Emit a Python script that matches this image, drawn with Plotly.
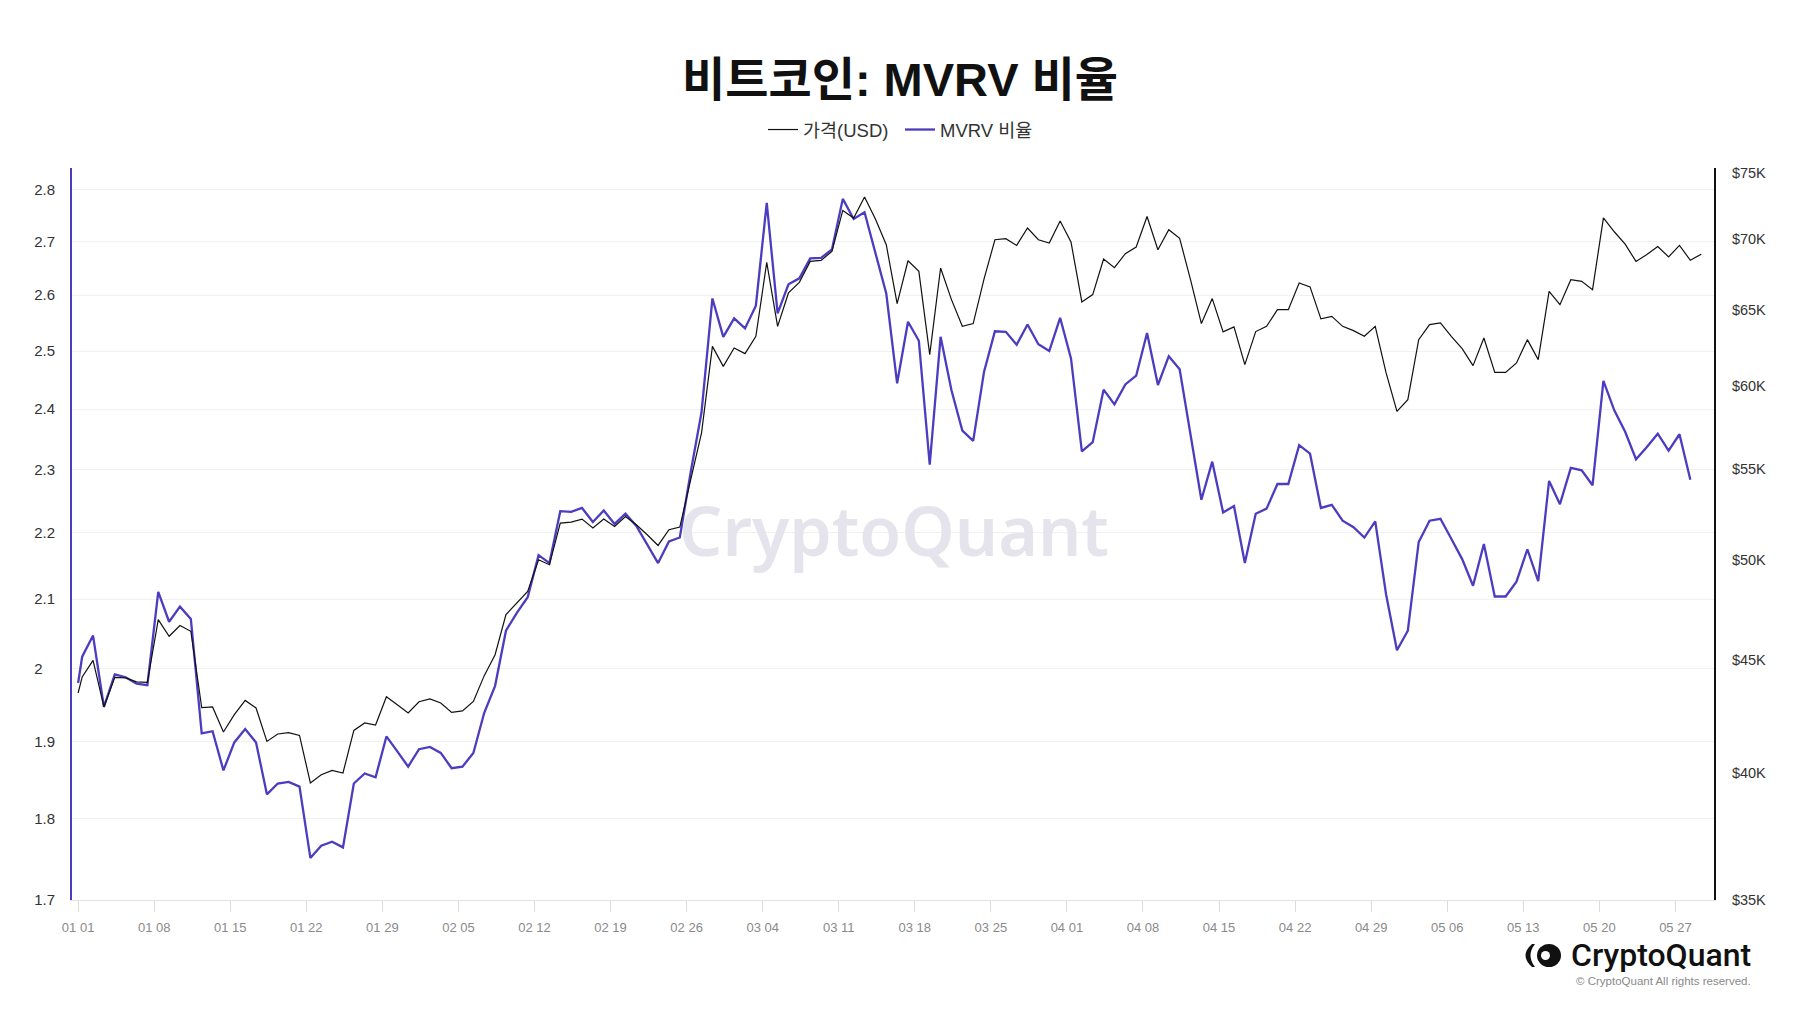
import math
import pandas as pd
import plotly.graph_objects as go

# ---------------- data ----------------
first_stamp = "2024-01-01 00:00"
daily_start = "2024-01-01 09:00"

price_usd = [
    43484, 44221, 44997, 42851, 44203, 44175, 43991, 43973, 46960, 46147,
    46668, 46390, 42820, 42851, 41740, 42507, 43146, 42806, 41332, 41653,
    41710, 41593, 39568, 39914, 40094, 39984, 41811, 42138, 42049, 43316,
    42952, 42581, 43088, 43211, 43029, 42609, 42672, 43102, 44282, 45266,
    47207, 47792, 48371, 50004, 49743, 51964, 52018, 52183, 51691, 52183,
    51778, 52325, 51870, 51330, 50758, 51600, 51747, 54378, 57117, 62541,
    61243, 62437, 62065, 63203, 68292, 63868, 66143, 66882, 68366, 68436,
    69087, 72118, 71547, 73140, 71474, 69573, 65405, 68414, 67655, 62003,
    67897, 65681, 63868, 64050, 67120, 69937, 70011, 69521, 70800, 69937,
    69695, 71323, 69769, 65524, 66028, 68537, 67918, 68919, 69405, 71666,
    69209, 70676, 70035, 67070, 64050, 65751, 63497, 63830, 61352, 63518,
    63868, 64995, 64995, 66840, 66563, 64366, 64541, 63868, 63582, 63203,
    63868, 60820, 58415, 59137, 62983, 63981, 64094, 63203, 62391, 61289,
    63094, 60856, 60856, 61464, 62983, 61677, 66255, 65335, 67070, 66952,
    66372, 71561, 70525, 69608, 68366, 68856, 69440, 68691, 69521, 68443,
    68884,
]

mvrv_ratio = [
    1.980, 2.017, 2.047, 1.947, 1.992, 1.988, 1.979, 1.977, 2.111, 2.067,
    2.089, 2.071, 1.911, 1.914, 1.862, 1.899, 1.917, 1.899, 1.831, 1.845,
    1.847, 1.841, 1.751, 1.766, 1.771, 1.764, 1.845, 1.858, 1.853, 1.907,
    1.887, 1.867, 1.890, 1.893, 1.885, 1.865, 1.867, 1.885, 1.939, 1.976,
    2.054, 2.080, 2.103, 2.166, 2.154, 2.234, 2.233, 2.239, 2.217, 2.235,
    2.214, 2.230, 2.211, 2.183, 2.154, 2.187, 2.193, 2.296, 2.395, 2.594,
    2.525, 2.558, 2.540, 2.581, 2.774, 2.567, 2.620, 2.631, 2.668, 2.669,
    2.685, 2.782, 2.743, 2.756, 2.677, 2.603, 2.444, 2.552, 2.518, 2.308,
    2.525, 2.432, 2.364, 2.347, 2.464, 2.535, 2.534, 2.511, 2.547, 2.512,
    2.500, 2.559, 2.487, 2.330, 2.345, 2.433, 2.408, 2.442, 2.457, 2.532,
    2.441, 2.491, 2.468, 2.358, 2.252, 2.313, 2.232, 2.242, 2.154, 2.230,
    2.238, 2.277, 2.277, 2.340, 2.326, 2.239, 2.244, 2.219, 2.209, 2.193,
    2.218, 2.107, 2.026, 2.054, 2.186, 2.219, 2.222, 2.191, 2.160, 2.120,
    2.183, 2.104, 2.104, 2.126, 2.175, 2.127, 2.282, 2.245, 2.303, 2.299,
    2.275, 2.448, 2.398, 2.362, 2.317, 2.337, 2.359, 2.331, 2.358, 2.284,
]

price_dates = [pd.Timestamp(first_stamp)] + list(
    pd.date_range(daily_start, periods=len(price_usd) - 1, freq="D"))
mvrv_dates = price_dates[:len(mvrv_ratio)]

mvrv_tickvals = [1.7, 1.8, 1.9, 2.0, 2.1, 2.2, 2.3, 2.4, 2.5, 2.6, 2.7, 2.8]
mvrv_ticktext = ["1.7", "1.8", "1.9", "2", "2.1", "2.2", "2.3", "2.4",
                 "2.5", "2.6", "2.7", "2.8"]
price_tickvals = [35000, 40000, 45000, 50000, 55000, 60000, 65000, 70000, 75000]
price_ticktext = ["$35K", "$40K", "$45K", "$50K", "$55K", "$60K", "$65K",
                  "$70K", "$75K"]
x_tickvals = list(pd.date_range("2024-01-01", "2024-05-27", freq="7D"))

title_text = "비트코인: MVRV 비율"
price_name = "가격(USD)"
mvrv_name = "MVRV 비율"
watermark_text = "CryptoQuant"
logo_text = "CryptoQuant"
copyright_text = "© CryptoQuant All rights reserved."

# ---------------- styling ----------------
W, H = 1800, 1013
L, R, T, B = 72, 86, 168, 113
PURPLE = "#4b3cc0"
FONT = "Liberation Sans, Arial, Noto Sans CJK KR, sans-serif"


def pad_label(t):
    # left-align labels: pad short ones with non-breaking spaces
    return t if len(t) >= 3 else t + "\u00a0" * 3


fig = go.Figure()
fig.add_trace(go.Scatter(
    x=mvrv_dates, y=mvrv_ratio, name=mvrv_name, mode="lines",
    line=dict(color=PURPLE, width=2.3), yaxis="y", legendrank=2))
fig.add_trace(go.Scatter(
    x=price_dates, y=price_usd, name=price_name, mode="lines",
    line=dict(color="#111111", width=1.2), yaxis="y2", legendrank=1))

pw = W - L - R
ph = H - T - B


def px_x(x):
    return (x - L) / pw


def px_y(y):
    return (H - B - y) / ph


shapes = []
# logo icon: left piece
shapes.append(dict(
    type="path", xref="paper", yref="paper", layer="above",
    path=("M {a},{b} Q {c},{d} {a},{e} L {f},{e} Q {g},{d} {f},{b} Z").format(
        a=px_x(1532), b=px_y(944), c=px_x(1519), d=px_y(955.5),
        e=px_y(967), f=px_x(1535), g=px_x(1526)),
    fillcolor="#111111", line=dict(width=0)))
# logo icon: right circle
shapes.append(dict(
    type="circle", xref="paper", yref="paper", layer="above",
    x0=px_x(1537), x1=px_x(1561), y0=px_y(967), y1=px_y(944),
    fillcolor="#111111", line=dict(width=0)))
shapes.append(dict(
    type="circle", xref="paper", yref="paper", layer="above",
    x0=px_x(1541), x1=px_x(1550), y0=px_y(960), y1=px_y(951),
    fillcolor="#ffffff", line=dict(width=0)))

fig.update_layout(
    width=W, height=H,
    margin=dict(l=L, r=R, t=T, b=B, autoexpand=False),
    paper_bgcolor="white", plot_bgcolor="white",
    font=dict(family=FONT, color="#333333"),
    title=dict(text="<b>" + title_text + "</b>", x=0.5, xref="container",
               xanchor="center", y=1 - 80 / H, yref="container",
               yanchor="middle",
               font=dict(size=47, color="#111111", family=FONT)),
    showlegend=True,
    legend=dict(orientation="h", x=0.5, xanchor="center", xref="container",
                y=1 - 130 / H, yanchor="middle", yref="container",
                font=dict(size=18.5, color="#333333"), bgcolor="rgba(0,0,0,0)",
                itemwidth=30, tracegroupgap=0, entrywidth=92,
                entrywidthmode="pixels"),
    xaxis=dict(
        type="date", range=["2023-12-31 10:30", "2024-05-30 13:15"],
        tickvals=x_tickvals, tickformat="%m %d",
        showgrid=False, showline=True, linecolor="#e3e3e3", linewidth=1,
        ticks="outside", ticklen=11, tickcolor="#dcdcdc", tickwidth=1,
        tickfont=dict(size=13, color="#8a8a8a"), ticklabelstandoff=4,
        zeroline=False, fixedrange=True),
    yaxis=dict(
        type="log", range=[math.log10(1.7), math.log10(2.843)],
        tickvals=mvrv_tickvals, ticktext=[pad_label(t) for t in mvrv_ticktext],
        showline=True, linecolor=PURPLE, linewidth=2,
        showgrid=True, gridcolor="#f1f1f1", gridwidth=1,
        ticks="", ticklabelstandoff=12,
        tickfont=dict(size=15, color="#333333"),
        zeroline=False, automargin=False),
    yaxis2=dict(
        type="log", overlaying="y", side="right",
        range=[math.log10(35000), math.log10(75400)],
        tickvals=price_tickvals, ticktext=price_ticktext,
        showline=True, linecolor="#111111", linewidth=2,
        showgrid=False, ticks="", ticklabelstandoff=13,
        tickfont=dict(size=14.5, color="#333333"),
        zeroline=False, automargin=False),
    shapes=shapes,
    annotations=[
        dict(text=watermark_text, xref="paper", yref="paper",
             x=px_x(894), y=px_y(529), xanchor="center", yanchor="middle",
             showarrow=False,
             font=dict(size=68, color="#e5e4ec", weight=600,
                       family="Noto Sans, sans-serif")),
        dict(text=logo_text, xref="paper", yref="paper",
             x=px_x(1753), y=px_y(955), xanchor="right", yanchor="middle",
             showarrow=False,
             font=dict(size=32, color="#111111", weight=500,
                       family="Roboto, sans-serif")),
        dict(text=copyright_text, xref="paper", yref="paper",
             x=px_x(1753), y=px_y(981), xanchor="right", yanchor="middle",
             showarrow=False,
             font=dict(size=11.5, color="#8a8a8a", family=FONT)),
    ],
)

fig.write_html("out.html")
